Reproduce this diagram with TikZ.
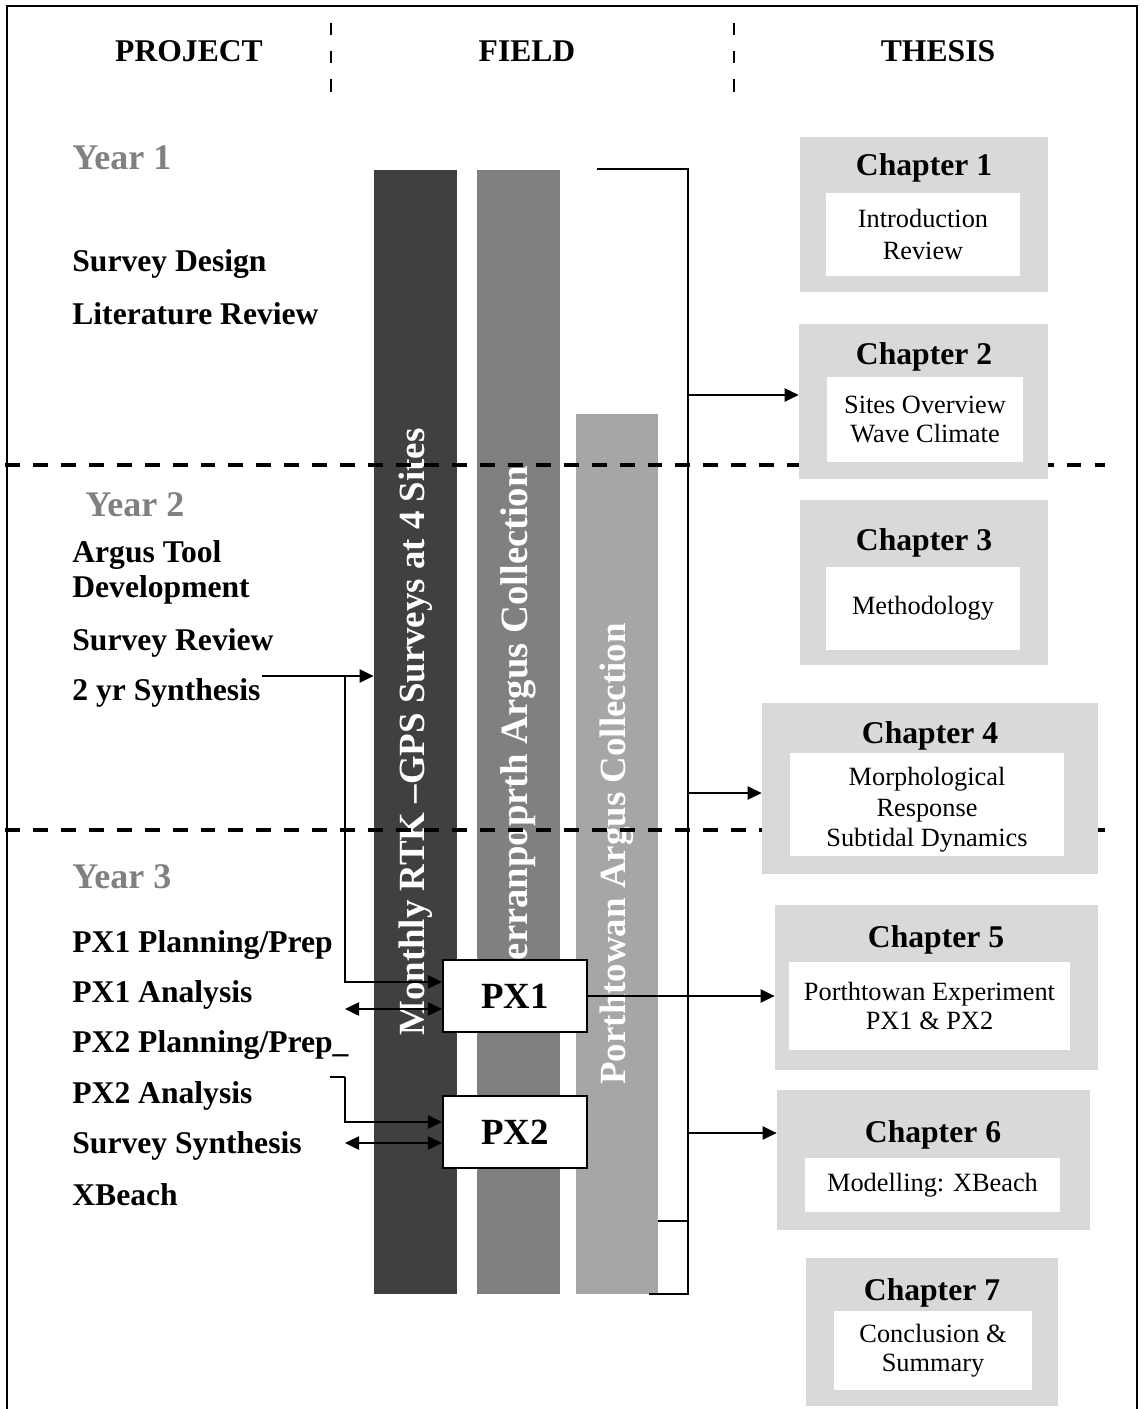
\documentclass[tikz,border=0pt]{standalone}
\usepackage{fontspec}
\setmainfont{Liberation Serif}
\usetikzlibrary{arrows.meta,fit}

\definecolor{darkbar}{HTML}{404040}
\definecolor{midbar}{HTML}{808080}
\definecolor{lightbar}{HTML}{A6A6A6}
\definecolor{chgray}{HTML}{D9D9D9}
\definecolor{yeargray}{HTML}{808080}

\begin{document}
\begin{tikzpicture}[x=0.02cm,y=-0.02cm,
    head/.style={anchor=base,inner sep=0pt,font=\fontsize{18}{20}\selectfont\bfseries},
    task/.style={anchor=base west,inner sep=0pt,font=\fontsize{18}{20}\selectfont\bfseries},
    year/.style={anchor=base west,inner sep=0pt,text=yeargray,font=\fontsize{20.5}{22}\selectfont\bfseries},
    bar/.style={inner sep=0pt},
    bartext/.style={rotate=90,inner sep=0pt,text=white,font=\fontsize{21}{24}\selectfont\bfseries},
    outer/.style={fill=chgray,inner sep=0pt},
    inner/.style={fill=white,inner sep=0pt},
    chtitle/.style={anchor=base,inner sep=0pt,font=\fontsize{18}{20}\selectfont\bfseries},
    chtext/.style={align=center,inner sep=0pt,font=\fontsize{15}{16.5}\selectfont},
    pxbox/.style={draw,line width=1.2pt,fill=white,inner sep=0pt},
    pxtext/.style={font=\fontsize{21}{24}\selectfont\bfseries},
    link/.style={line width=1.1pt},
    arr/.style={line width=1.2pt,-{Triangle[length=8pt,width=7.5pt]}},
    dblarr/.style={line width=1.2pt,{Triangle[length=8pt,width=7.5pt]}-{Triangle[length=8pt,width=7.5pt]}},
    divider/.style={line width=1.2pt,dash pattern=on 7pt off 9pt},
    yearline/.style={line width=2.2pt,dash pattern=on 8.5pt off 7.4pt}]

    \useasboundingbox (0,0) rectangle (1145,1409);

    % frame and column heads
    \draw[line width=1.2pt] (7,1409) -- (7,6) -- (1137,6) -- (1137,1409);
    \draw[divider] (331,23) -- (331,95);
    \draw[divider] (734,23) -- (734,95);
    \node[head] (hproj) at (189,62) {PROJECT};
    \node[head] (hfield) at (527,62) {FIELD};
    \node[head] (hthesis) at (938,62) {THESIS};

    % project column
    \node[year] (yr1) at (72,170) {Year 1};
    \node[task] (t1) at (72,272) {Survey Design};
    \node[task] (t2) at (72,324) {Literature Review};
    \node[year] (yr2) at (85,516) {Year 2};
    \node[task] (t3) at (72,562) {Argus Tool};
    \node[task] (t4) at (72,597) {Development};
    \node[task] (t5) at (72,650) {Survey Review};
    \node[task] (t6) at (72,700) {2 yr Synthesis};
    \node[year] (yr3) at (72,888) {Year 3};
    \node[task] (t7) at (72,952) {PX1 Planning/Prep};
    \node[task] (t8) at (72,1002) {PX1 Analysis};
    \node[task] (t9) at (72,1052) {PX2 Planning/Prep\_};
    \node[task] (t10) at (72,1103) {PX2 Analysis};
    \node[task] (t11) at (72,1153) {Survey Synthesis};
    \node[task] (t12) at (72,1205) {XBeach};

    % field bars
    \node[bar,fill=darkbar,fit={(374,170) (457,1294)}] (bar1) {};
    \node[bar,fill=midbar,fit={(477,170) (560,1294)}] (bar2) {};
    \node[bar,fill=lightbar,fit={(576,414) (658,1294)}] (bar3) {};
    \node[bartext] (bar1t) at (bar1.center) {Monthly RTK –GPS Surveys at 4 Sites};
    \node[bartext,font=\fontsize{22}{24}\selectfont\bfseries] (bar2t) at ([yshift=4pt]bar2.center) {Perranpoprth Argus Collection};
    \node[bartext] (bar3t) at (bar3.center) {Porthtowan Argus Collection};

    % year boundaries
    \draw[yearline] (5,465) -- (1105,465);
    \draw[yearline] (5,830) -- (1105,830);

    % thesis chapters
    \node[outer,fit={(800,137) (1048,292)}] (ch1) {};
    \node[inner,fit={(826,193) (1020,276)}] (ch1in) {};
    \node[chtitle] (ch1t) at (924,176) {Chapter 1};
    \node[chtext,font=\fontsize{15}{18}\selectfont] (ch1x) at (ch1in.center) {Introduction\\Review};

    \node[outer,fit={(799,324) (1048,479)}] (ch2) {};
    \node[inner,fit={(827,377) (1023,462)}] (ch2in) {};
    \node[chtitle] (ch2t) at (924,364) {Chapter 2};
    \node[chtext] (ch2x) at (ch2in.center) {Sites Overview\\Wave Climate};

    \node[outer,fit={(800,500) (1048,665)}] (ch3) {};
    \node[inner,fit={(826,567) (1020,650)}] (ch3in) {};
    \node[chtitle] (ch3t) at (924,550) {Chapter 3};
    \node[chtext] (ch3x) at (ch3in.center) {Methodology};

    \node[outer,fit={(762,703) (1098,874)}] (ch4) {};
    \node[inner,fit={(790,753) (1064,856)}] (ch4in) {};
    \node[chtitle] (ch4t) at (930,743) {Chapter 4};
    \node[chtext,font=\fontsize{15}{17.5}\selectfont] (ch4x) at ([yshift=-3pt]ch4in.center) {Morphological\\Response\\Subtidal Dynamics};

    \node[outer,fit={(775,905) (1098,1070)}] (ch5) {};
    \node[inner,fit={(789,962) (1070,1050)}] (ch5in) {};
    \node[chtitle] (ch5t) at (936,947) {Chapter 5};
    \node[chtext] (ch5x) at (ch5in.center) {Porthtowan Experiment\\PX1 \& PX2};

    \node[outer,fit={(777,1090) (1090,1230)}] (ch6) {};
    \node[inner,fit={(805,1158) (1060,1212)}] (ch6in) {};
    \node[chtitle] (ch6t) at (933,1142) {Chapter 6};
    \node[chtext] (ch6x) at (ch6in.center) {Modelling: XBeach};

    \node[outer,fit={(806,1258) (1058,1406)}] (ch7) {};
    \node[inner,fit={(834,1311) (1032,1390)}] (ch7in) {};
    \node[chtitle] (ch7t) at (932,1300) {Chapter 7};
    \node[chtext] (ch7x) at (ch7in.center) {Conclusion \&\\Summary};

    % experiments
    \node[pxbox,fit={(443,960) (587,1032)}] (px1) {};
    \node[pxtext] (px1t) at (px1.center) {PX1};
    \node[pxbox,fit={(443,1096) (587,1168)}] (px2) {};
    \node[pxtext] (px2t) at (px2.center) {PX2};

    % project links
    \coordinate (syn) at (262,676);
    \coordinate (drop1) at (345,676);
    \coordinate (prep2) at (330,1077);
    \coordinate (drop2) at (345,1077);
    \coordinate (back1) at (345,1009);
    \coordinate (back2) at (345,1143);
    \draw[arr] (syn) -- (syn -| bar1.west);
    \draw[arr] (drop1) |- ([yshift=8pt]px1.west);
    \draw[dblarr] (back1) -- (back1 -| px1.west);
    \draw[link] (prep2) -- (drop2);
    \draw[arr] (drop2) |- ([yshift=5.7pt]px2.west);
    \draw[dblarr] (back2) -- (back2 -| px2.west);

    % field to thesis
    \coordinate (brtop) at (688,169);
    \coordinate (brbot) at (688,1294);
    \draw[link] (597,169) -- (brtop) -- (brbot) -- (649,1294);
    \draw[link] (bar3.east |- 0,1221) -- (brtop |- 0,1221);
    \draw[arr] (brtop |- 0,395) -- (ch2.west |- 0,395);
    \draw[arr] (brtop |- 0,793) -- (ch4.west |- 0,793);
    \draw[arr] (brtop |- 0,1133) -- (ch6.west |- 0,1133);
    \draw[arr] (px1.east) -- (px1.east -| ch5.west);
\end{tikzpicture}
\end{document}
